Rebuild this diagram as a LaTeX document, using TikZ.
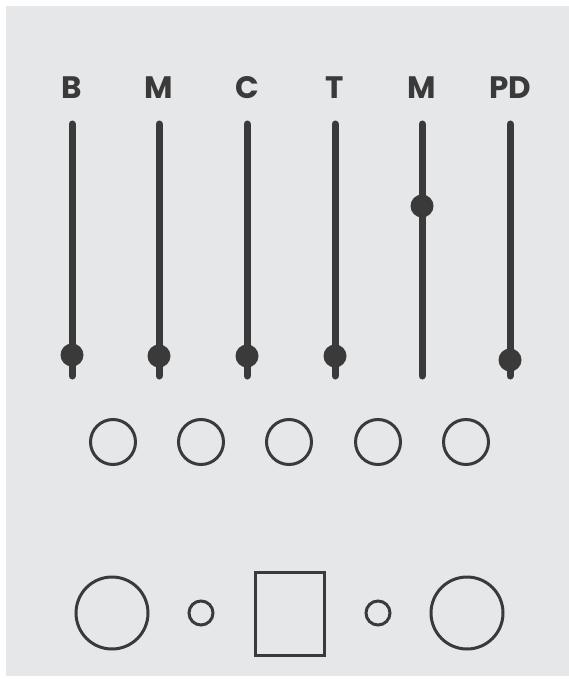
\documentclass[tikz,border=0pt]{standalone}
\usepackage{fontspec}
\setmainfont{Poppins}
\definecolor{panel}{HTML}{E6E7E9}
\definecolor{ink}{HTML}{3A3A3B}
\begin{document}
\begin{tikzpicture}[x=1pt,y=-1pt,
  track/.style={draw=ink,line width=7pt,line cap=round},
  knob/.style={circle,fill=ink,minimum size=23pt,inner sep=0pt},
  lbl/.style={text=ink,font=\fontsize{31}{31}\selectfont\bfseries,anchor=base},
  jack/.style={circle,draw=ink,line width=3pt,inner sep=0pt},
  box/.style={draw=ink,line width=3pt,inner sep=0pt}]
\useasboundingbox (0,0) rectangle (569,679);
\fill[white] (0,0) rectangle (569,679);
\fill[panel] (6,6) rectangle (569,676);
% sliders
\foreach \n/\x/\k/\t in {1/72/355/B,2/159/356/M,3/247/356/C,4/335/356/T,5/422/206/M,6/510/360/PD}{
  \node[lbl] (l\n) at (\x,99) {\t};
  \coordinate (a\n) at (\x,124);
  \coordinate (b\n) at (\x,376);
  \draw[track] (a\n) -- (b\n);
  \node[knob] (k\n) at (\x,\k) {};
}
% small jacks
\foreach \n/\x in {1/113,2/201,3/289,4/378,5/466}{
  \node[jack,minimum size=45pt] (j\n) at (\x,442) {};
}
% bottom row
\node[jack,minimum size=72pt] (big1) at (112,613) {};
\node[jack,minimum size=24pt] (sm1) at (201,613) {};
\node[box,minimum width=69pt,minimum height=83pt] (sq) at (290,614) {};
\node[jack,minimum size=24pt] (sm2) at (378,613) {};
\node[jack,minimum size=72pt] (big2) at (467,613) {};
\end{tikzpicture}
\end{document}
